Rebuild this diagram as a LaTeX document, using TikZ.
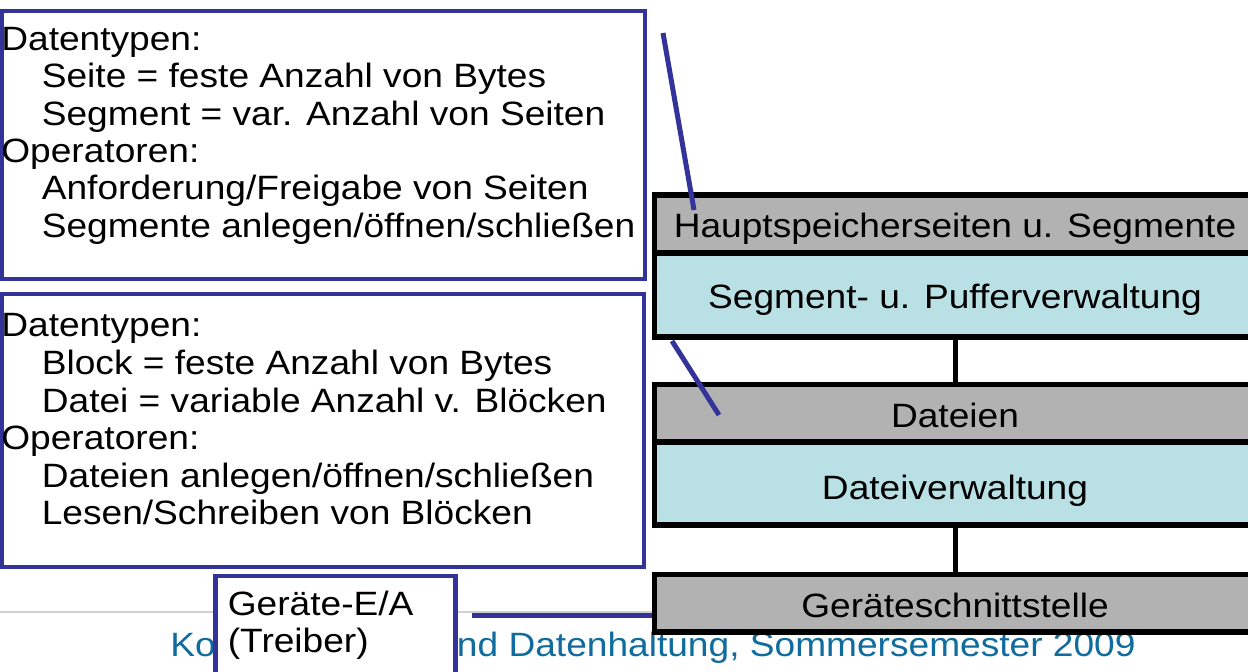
\documentclass[tikz,border=0pt]{standalone}
\usepackage{fontspec}
\setmainfont[FakeStretch=1.1]{Liberation Sans}

\definecolor{boxblue}{RGB}{51,51,153}
\definecolor{layergray}{RGB}{178,178,178}
\definecolor{layerblue}{RGB}{185,224,228}
\definecolor{footblue}{RGB}{16,108,158}
\definecolor{rulegray}{RGB}{208,208,208}

\begin{document}
\begin{tikzpicture}[x=0.02cm, y=-0.02cm,
        font=\fontsize{19.2}{21.2}\selectfont,
        infobox/.style={draw=boxblue, line width=0.09cm, fill=white},
        txt/.style={anchor=base west, inner sep=0pt},
        layer/.style={draw=black, line width=0.11cm, minimum width=12.02cm, inner sep=0pt,
                      text height=0.56cm, text depth=0pt},
        graylayer/.style={layer, fill=layergray},
        bluelayer/.style={layer, fill=layerblue},
        pointer/.style={draw=boxblue, line width=0.1cm}]
    \useasboundingbox (0,0) rectangle (1248,672);
    \clip (0,0) rectangle (1248,672);
    \fill[white] (0,0) rectangle (1248,672);

    % footer
    \draw[rulegray, line width=0.04cm] (0,611.5) -- (1248,611.5);
    \node[txt, anchor=base east, text=footblue] (footer) at (1136,656) {Kommunikation und Datenhaltung, Sommersemester 2009};

    % Seiten / Segmente
    \draw[infobox] (1.5,11) rectangle (645,279);
    \node[txt] (s1) at (1,50.5) {Datentypen:};
    \node[txt] (s2) at (41.5,88) {Seite = feste Anzahl von Bytes};
    \node[txt] (s3) at (41.5,125.3) {Segment = var. Anzahl von Seiten};
    \node[txt] (s4) at (1,162.6) {Operatoren:};
    \node[txt] (s5) at (41.5,200) {Anforderung/Freigabe von Seiten};
    \node[txt] (s6) at (41.5,237.3) {Segmente anlegen/öffnen/schließen};

    % Bloecke / Dateien
    \draw[infobox] (1.5,294) rectangle (644,567);
    \node[txt] (d1) at (1,337) {Datentypen:};
    \node[txt] (d2) at (41.5,374.5) {Block = feste Anzahl von Bytes};
    \node[txt] (d3) at (41.5,412) {Datei = variable Anzahl v. Blöcken};
    \node[txt] (d4) at (1,449.5) {Operatoren:};
    \node[txt] (d5) at (41.5,487) {Dateien anlegen/öffnen/schließen};
    \node[txt] (d6) at (41.5,524.5) {Lesen/Schreiben von Blöcken};

    % Treiber
    \draw[infobox] (215.5,576) rectangle (455.5,700);
    \node[txt] (t1) at (227.5,615) {Geräte-E/A};
    \node[txt] (t2) at (227.5,652.3) {(Treiber)};

    % layers
    \node[graylayer, minimum height=1.16cm] (haupt) at (955,224) {Hauptspeicherseiten u. Segmente};
    \node[bluelayer, minimum height=1.68cm] (puffer) at (955,295) {Segment- u. Pufferverwaltung};
    \node[graylayer, minimum height=1.15cm] (dateien) at (955,413.3) {Dateien};
    \node[bluelayer, minimum height=1.66cm, text height=0.63cm] (dverw) at (955,483.5) {Dateiverwaltung};
    \node[graylayer, minimum height=1.15cm] (gst) at (955,603.3) {Geräteschnittstelle};
    \draw[line width=0.1cm] (puffer.south) -- (dateien.north);
    \draw[line width=0.1cm] (dverw.south) -- (gst.north);

    % pointers
    \coordinate (p1a) at (663,33);
    \coordinate (p1b) at (694,210);
    \coordinate (p2a) at (672,341);
    \coordinate (p2b) at (719,415);
    \coordinate (p3a) at (472,615);
    \draw[pointer] (p1a) -- (p1b);
    \draw[pointer] (p2a) -- (p2b);
    \draw[pointer] (p3a) -- (p3a -| gst.west);
\end{tikzpicture}
\end{document}
